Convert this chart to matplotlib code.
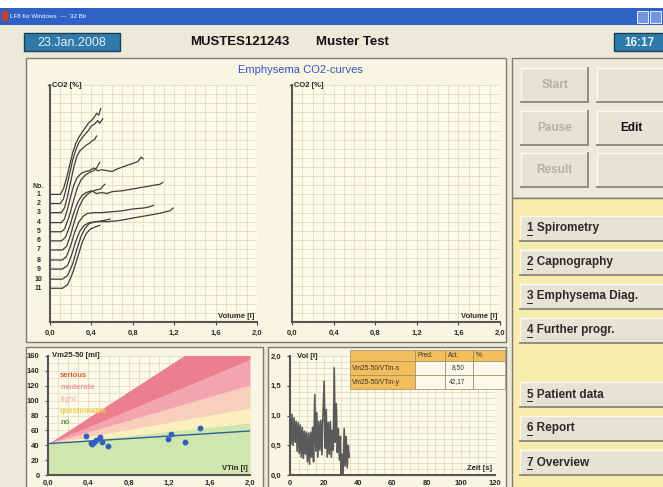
import matplotlib.pyplot as plt
from matplotlib.patches import Rectangle
from matplotlib.ticker import FuncFormatter, MultipleLocator
from matplotlib.transforms import blended_transform_factory

plt.rcParams['font.family'] = ['Liberation Sans', 'DejaVu Sans']

W, H = 663, 487

# ---- data ----
patient_id = "MUSTES121243"
patient_name = "Muster Test"
date_txt = "23.Jan.2008"
time_txt = "16:17"

# CO2 curves, one list per breath (volume [l], CO2 in grid units incl. offset)
co2_labels = ["1", "2", "3", "4", "5", "6", "7", "8", "9", "10", "11"]
co2_base = [14.0, 13.0, 12.0, 10.9, 9.9, 8.9, 7.9, 6.8, 5.8, 4.7, 3.7]
co2_vol = [
    [0.0, 0.10, 0.13, 0.16, 0.19, 0.22, 0.25, 0.28, 0.31, 0.34, 0.37, 0.40, 0.43, 0.45, 0.47, 0.49],
    [0.0, 0.10, 0.13, 0.16, 0.19, 0.22, 0.25, 0.28, 0.31, 0.34, 0.37, 0.40, 0.43, 0.46, 0.48, 0.51],
    [0.0, 0.11, 0.14, 0.17, 0.20, 0.23, 0.26, 0.29, 0.32, 0.35, 0.38, 0.41, 0.43, 0.45],
    [0.0, 0.11, 0.14, 0.17, 0.20, 0.23, 0.26, 0.30, 0.34, 0.38, 0.42, 0.46, 0.50, 0.55, 0.60,
     0.65, 0.70, 0.75, 0.80, 0.85, 0.88, 0.90],
    [0.0, 0.11, 0.14, 0.18, 0.22, 0.26, 0.30, 0.34, 0.38, 0.42, 0.45, 0.48],
    [0.0, 0.11, 0.15, 0.19, 0.23, 0.27, 0.31, 0.35, 0.40, 0.45, 0.50, 0.55, 0.60, 0.70, 0.80,
     0.90, 1.00, 1.06, 1.09],
    [0.0, 0.12, 0.16, 0.20, 0.24, 0.28, 0.32, 0.36, 0.40, 0.45, 0.49, 0.51, 0.53],
    [0.0, 0.12, 0.16, 0.20, 0.24, 0.28, 0.32, 0.36, 0.42, 0.50, 0.60, 0.70, 0.80, 0.90, 0.95, 1.00],
    [0.0, 0.12, 0.17, 0.21, 0.25, 0.29, 0.33, 0.38, 0.45, 0.55, 0.65, 0.75, 0.85, 0.95, 1.05,
     1.12, 1.16, 1.19],
    [0.0, 0.12, 0.17, 0.22, 0.26, 0.30, 0.34, 0.38, 0.44, 0.50, 0.55, 0.58],
    [0.0, 0.12, 0.17, 0.22, 0.27, 0.31, 0.35, 0.39, 0.43, 0.48],
]
co2_val = [
    [14.0, 14.0, 14.6, 15.8, 17.2, 18.6, 19.6, 20.3, 20.8, 21.3, 21.8, 22.1, 22.5, 22.9, 22.7, 23.4],
    [13.0, 13.0, 13.5, 14.8, 16.3, 17.8, 18.9, 19.7, 20.2, 20.6, 21.0, 21.5, 21.7, 22.1, 21.8, 22.3],
    [12.0, 12.0, 12.5, 13.8, 15.4, 17.0, 18.2, 18.8, 19.1, 19.4, 19.6, 19.9, 20.0, 20.4],
    [10.9, 10.9, 11.3, 12.4, 13.8, 15.0, 15.8, 16.3, 16.5, 16.6, 16.9, 16.6, 16.7, 16.6, 16.5,
     16.8, 17.0, 17.2, 17.4, 17.6, 18.1, 17.9],
    [9.9, 9.9, 10.2, 11.4, 13.0, 14.6, 15.6, 16.1, 16.4, 16.6, 16.9, 17.5],
    [8.9, 8.9, 9.3, 10.5, 12.0, 13.2, 13.9, 14.2, 14.4, 14.1, 14.2, 14.1, 14.3, 14.4, 14.6,
     14.8, 15.0, 15.1, 15.3],
    [7.9, 7.9, 8.3, 9.6, 11.2, 12.6, 13.5, 14.0, 14.3, 14.5, 14.6, 14.9, 15.1],
    [6.8, 6.8, 7.2, 8.4, 9.9, 11.0, 11.6, 11.9, 12.0, 12.0, 12.1, 12.2, 12.4, 12.5, 12.6, 12.8],
    [5.8, 5.8, 6.2, 7.4, 8.9, 10.0, 10.6, 10.9, 11.0, 11.0, 11.1, 11.3, 11.5, 11.7, 11.9,
     12.1, 12.2, 12.5],
    [4.7, 4.7, 5.1, 6.4, 8.0, 9.4, 10.3, 10.8, 11.0, 11.1, 11.2, 11.3],
    [3.7, 3.7, 4.1, 5.4, 7.2, 8.7, 9.7, 10.2, 10.4, 10.6],
]

# Vm25-50 vs VTin
vtin = [0.38, 0.43, 0.44, 0.455, 0.475, 0.51, 0.53, 0.59, 1.19, 1.22, 1.36, 1.50]
vm2550 = [52.5, 43.5, 41.7, 44.8, 47.0, 50.7, 44.8, 39.0, 48.4, 54.7, 44.8, 62.8]
fit_slope = 8.50
fit_icept = 42.17
zone_names = ["no", "questionable", "light", "moderate", "serious"]
zone_origin = 42
zone_top_at_2 = [70, 90, 121, 155, 218]
zone_colors = ["#cfe6ae", "#faefbd", "#f8cfba", "#f4a4b1", "#ec7f8e"]
zone_text_colors = ["#5a9a35", "#f0cf45", "#f6c1c6", "#eb97a7", "#e2552c"]

# volume-time trace
vol_t = [0.0, 0.6, 1.2, 1.8, 2.4, 3.0, 3.6, 4.2, 4.8, 5.4, 6.0, 6.6, 7.2, 7.8, 8.4, 9.0,
         9.6, 10.2, 10.8, 11.4, 12.0, 12.6, 13.2, 13.8, 14.5, 15.1, 15.7, 16.3, 16.9, 17.5,
         18.1, 18.7, 19.3, 20.0, 20.6, 21.2, 21.8, 22.4, 23.0, 23.6, 24.2, 24.8, 25.3, 25.9,
         26.5, 27.1, 27.7, 28.3, 28.9, 29.5, 29.9, 30.5, 31.1, 31.7, 32.3, 32.9, 33.5, 34.1, 34.7]
vol_v = [0.95, 0.52, 1.02, 0.50, 0.96, 0.55, 0.90, 0.40, 0.88, 0.36, 0.84, 0.30, 0.80, 0.28,
         0.74, 0.35, 0.72, 0.22, 0.70, 0.18, 0.72, 0.30, 0.80, 0.22, 1.35, 0.40, 1.05, 0.30,
         0.90, 0.42, 0.92, 0.34, 1.00, 1.58, 0.45, 1.10, 0.30, 0.88, 0.35, 0.90, 0.30, 0.75,
         0.42, 1.80, 0.55, 1.20, 0.38, 0.78, 0.25, 0.65, 0.0, 0.35, 0.02, 0.78, 0.15, 0.65,
         0.12, 0.50, 0.30]

table_head = ["", "Pred.", "Act.", "%"]
table_rows = ["Vm25-50/VTin-s", "Vm25-50/VTin-y"]
table_act = ["8,50", "42,17"]

top_buttons = [["Start", ""], ["Pause", "Edit"], ["Result", ""]]
menu_buttons = ["1 Spirometry", "2 Capnography", "3 Emphysema Diag.", "4 Further progr.",
                "5 Patient data", "6 Report", "7 Overview"]
menu_rows = [216, 250, 284, 318, 382, 416, 450]

# ---- helpers ----
BG = "#ece9d8"
PLOT_BG = "#fcfae8"
GRID = "#e6dcbd"
INK = "#2a2a2a"

fig = plt.figure(figsize=(W / 100, H / 100), dpi=100, facecolor=BG)

ui = fig.add_axes([0, 0, 1, 1], zorder=0)
ui.set_xlim(0, W)
ui.set_ylim(H, 0)
ui.axis("off")

over = fig.add_axes([0, 0, 1, 1], zorder=10)
over.set_xlim(0, W)
over.set_ylim(H, 0)
over.axis("off")
over.patch.set_alpha(0)


def px_axes(x0, y0, x1, y1):
    return fig.add_axes([x0 / W, 1 - y1 / H, (x1 - x0) / W, (y1 - y0) / H], zorder=5)


def box(ax, x0, y0, x1, y1, fc, ec=None, lw=0.8):
    ax.add_patch(Rectangle((x0, y0), x1 - x0, y1 - y0, fc=fc,
                           ec=ec if ec else "none", lw=lw))


def button(x0, y0, x1, y1, label, color=INK, underline=False):
    box(ui, x0, y0, x1, y1, "#e6e3d5")
    ui.plot([x0, x1], [y0, y0], color="#fbfaf2", lw=1)
    ui.plot([x0, x0], [y0, y1], color="#fbfaf2", lw=1)
    ui.plot([x0, x1], [y1, y1], color="#8f8c80", lw=1.4)
    ui.plot([x1, x1], [y0, y1], color="#8f8c80", lw=1.4)
    if not label:
        return
    ym = (y0 + y1) / 2
    if underline:
        ui.text(x0 + 7, ym, label, ha="left", va="center", fontsize=8.5,
                fontweight="bold", color=color)
        ui.plot([x0 + 7, x0 + 12], [ym + 6, ym + 6], color=color, lw=0.7)
    else:
        ui.text((x0 + x1) / 2, ym, label, ha="center", va="center", fontsize=8.5,
                fontweight="bold", color=color)


def comma(fmt):
    return FuncFormatter(lambda v, p: fmt.format(v).replace(".", ","))


def style_axes(ax):
    ax.set_facecolor(PLOT_BG)
    for s in ["top", "right"]:
        ax.spines[s].set_visible(False)
    for s in ["left", "bottom"]:
        ax.spines[s].set_color("#555555")
        ax.spines[s].set_linewidth(1.5)
    ax.grid(which="both", color=GRID, lw=0.6)
    ax.tick_params(which="minor", length=0)
    ax.tick_params(which="major", labelsize=5.5, colors="#444444", length=2.5,
                   labelcolor=INK)
    for lab in ax.get_xticklabels() + ax.get_yticklabels():
        lab.set_fontweight("bold")


# ---- window chrome ----
box(ui, 0, 0, W, 8, "white")
box(ui, 0, 8, W, 25, "#2f62c6")
box(ui, 2, 11, 8, 21, "#c84030")
ui.text(10, 16.5, "LF8 für Windows  ---  32 Bit", fontsize=4.5, color="white",
        va="center", ha="left")
for x in [637, 650]:
    box(ui, x, 11, x + 11, 23, "#7096e4", ec="white", lw=0.6)

box(ui, 24, 33, 120, 51, "#2f7aa8", ec="#17405c", lw=1)
ui.text(72, 42.5, date_txt, ha="center", va="center", fontsize=9, color="#e4f1fa")
ui.text(190, 42, patient_id, ha="left", va="center", fontsize=9.5,
        fontweight="bold", color="#111111")
ui.text(316, 42, patient_name, ha="left", va="center", fontsize=9.5,
        fontweight="bold", color="#111111")
box(ui, 614, 33, 665, 51, "#2f7aa8", ec="#17405c", lw=1)
ui.text(639, 42.5, time_txt, ha="center", va="center", fontsize=8.5,
        fontweight="bold", color="#e4f1fa")

# panels
box(ui, 26, 58, 506, 342, "#f8f5e3", ec="#7d7a70", lw=1)
box(ui, 26, 347, 263, 490, "#f8f5e3", ec="#7d7a70", lw=1)
box(ui, 268, 347, 506, 490, "#f8f5e3", ec="#7d7a70", lw=1)
box(ui, 512, 58, 666, 198, BG, ec="#7d7a70", lw=1)
box(ui, 512, 198, 666, 490, "#f8ecac", ec="#7d7a70", lw=1)

# ---- buttons ----
for r, (y0, y1) in enumerate([(68, 102), (111, 145), (153, 187)]):
    left, right = top_buttons[r]
    button(521, y0, 588, y1, left, color="#b3b0a4")
    button(597, y0, 666, y1, right, color="#111111")
for lab, y0 in zip(menu_buttons, menu_rows):
    button(520, y0, 666, y0 + 25, lab, underline=True)

# ---- CO2 curves ----
ui.text(300, 70, "Emphysema CO2-curves", ha="center", va="center", fontsize=8,
        color="#3552c2")

for i, (x0, x1) in enumerate([(50, 257), (292, 500)]):
    ax = px_axes(x0, 85, x1, 322)
    ax.set_xlim(0, 2.0)
    ax.set_ylim(0, 26)
    ax.xaxis.set_major_locator(MultipleLocator(0.4))
    ax.xaxis.set_minor_locator(MultipleLocator(0.1))
    ax.yaxis.set_major_locator(MultipleLocator(1))
    ax.xaxis.set_major_formatter(comma("{:.1f}"))
    style_axes(ax)
    ax.tick_params(axis="y", length=0, labelleft=False)
    ax.text(0.01, 1.0, "CO2 [%]", transform=ax.transAxes, ha="left", va="center",
            fontsize=5.5, fontweight="bold", color=INK)
    ax.plot([-0.02, 0.0], [26, 26], color="#555555", lw=1, clip_on=False)
    ax.text(0.985, 0.01, "Volume [l]", transform=ax.transAxes, ha="right",
            va="bottom", fontsize=5.5, fontweight="bold", color=INK)
    if i == 0:
        for xs, ys in zip(co2_vol, co2_val):
            ax.plot(xs, ys, color="#3e3e3e", lw=0.9)
        tr = blended_transform_factory(ax.transAxes, ax.transData)
        ax.text(-0.055, co2_base[0] + 0.9, "No.", transform=tr, ha="center",
                va="center", fontsize=5, fontweight="bold", color=INK)
        for lab, b in zip(co2_labels, co2_base):
            ax.text(-0.055, b, lab, transform=tr, ha="center", va="center",
                    fontsize=5, fontweight="bold", color=INK)

# ---- Vm25-50 vs VTin ----
ax = px_axes(48, 356, 250, 475)
ax.set_xlim(0, 2.0)
ax.set_ylim(0, 160)
ax.xaxis.set_major_locator(MultipleLocator(0.4))
ax.xaxis.set_minor_locator(MultipleLocator(0.1))
ax.yaxis.set_major_locator(MultipleLocator(20))
ax.yaxis.set_minor_locator(MultipleLocator(10))
ax.xaxis.set_major_formatter(comma("{:.1f}"))
ax.yaxis.set_major_formatter(comma("{:.0f}"))
style_axes(ax)
ax.tick_params(axis="x", length=0)
xs = [0, 2.0]
lower = [0, 0]
for top, col in zip(zone_top_at_2, zone_colors):
    upper = [zone_origin, top]
    ax.fill_between(xs, lower, upper, color=col, lw=0, zorder=2)
    lower = upper
label_y = [70, 85, 102, 118, 134]
for name, col, ly in zip(zone_names, zone_text_colors, label_y):
    ax.text(0.12, ly, name, ha="left", va="center", fontsize=5.5,
            fontweight="bold", color=col, zorder=3)
ax.plot(xs, [fit_icept + fit_slope * x for x in xs], color="#2f5f9a", lw=1, zorder=3)
ax.scatter(vtin, vm2550, s=10, color="#2f5fc0", zorder=4)
ax.text(0.04, 160, "Vm25-50 [ml]", ha="left", va="center", fontsize=5.5,
        fontweight="bold", color=INK, zorder=3)
ax.text(1.98, 4, "VTin [l]", ha="right", va="bottom", fontsize=5.5,
        fontweight="bold", color=INK, zorder=3)

# ---- Vol vs Zeit ----
ax = px_axes(290, 356, 495, 475)
ax.set_xlim(0, 120)
ax.set_ylim(0, 2.0)
ax.xaxis.set_major_locator(MultipleLocator(20))
ax.xaxis.set_minor_locator(MultipleLocator(5))
ax.yaxis.set_major_locator(MultipleLocator(0.5))
ax.yaxis.set_minor_locator(MultipleLocator(0.1))
ax.yaxis.set_major_formatter(comma("{:.1f}"))
style_axes(ax)
ax.tick_params(axis="x", length=0)
ax.plot(vol_t, vol_v, color="#5a5a5a", lw=1.2)
ax.text(4, 2.0, "Vol [l]", ha="left", va="center", fontsize=5.5,
        fontweight="bold", color=INK)
ax.text(118, 0.05, "Zeit [s]", ha="right", va="bottom", fontsize=5.5,
        fontweight="bold", color=INK)

# table on top of the volume plot
col_x = [350, 415, 445, 473, 505]
row_y = [350, 361, 375, 389]
ORANGE = "#f3bd5c"
for c in range(4):
    box(over, col_x[c], row_y[0], col_x[c + 1], row_y[1], ORANGE, ec="#9a8a60", lw=0.5)
    over.text(col_x[c] + 3, (row_y[0] + row_y[1]) / 2, table_head[c], ha="left",
              va="center", fontsize=4.8, color="#333333")
for r, (lab, act) in enumerate(zip(table_rows, table_act)):
    y0, y1 = row_y[r + 1], row_y[r + 2]
    box(over, col_x[0], y0, col_x[1], y1, ORANGE, ec="#9a8a60", lw=0.5)
    for c in range(1, 4):
        box(over, col_x[c], y0, col_x[c + 1], y1, "#fdf9ea", ec="#9a8a60", lw=0.5)
    over.text(col_x[0] + 2, (y0 + y1) / 2, lab, ha="left", va="center",
              fontsize=4.8, color="#333333")
    over.text(col_x[3] - 8, (y0 + y1) / 2, act, ha="right", va="center",
              fontsize=4.8, color="#333333")

fig.savefig("out.png", dpi=100, facecolor=BG)
